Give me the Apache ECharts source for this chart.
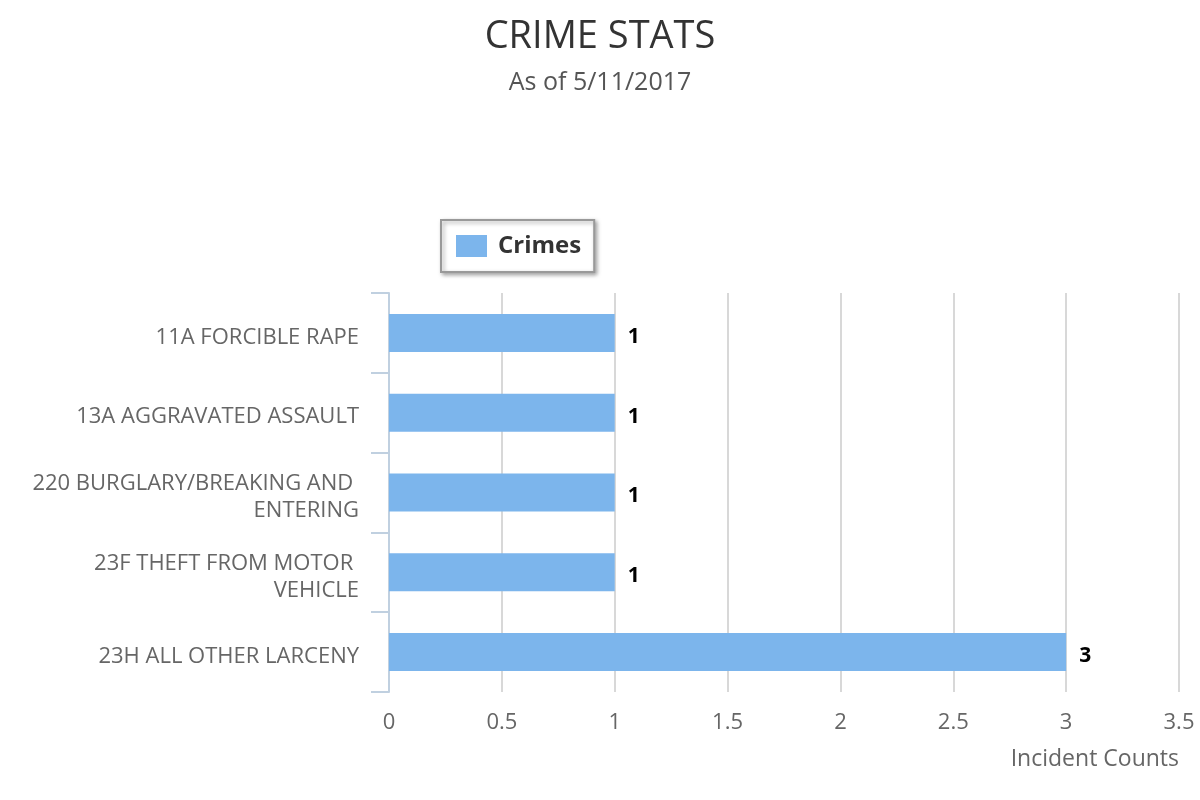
<!DOCTYPE html>
<html>
<head>
<meta charset="utf-8">
<script src="https://cdn.jsdelivr.net/npm/echarts@6/dist/echarts.min.js"></script>
<style>html,body{margin:0;padding:0;background:#fff}#c{width:1200px;height:800px}</style>
</head>
<body>
<div id="c"></div>
<script>
const categories = [
  '11A FORCIBLE RAPE',
  '13A AGGRAVATED ASSAULT',
  '220 BURGLARY/BREAKING AND ENTERING',
  '23F THEFT FROM MOTOR VEHICLE',
  '23H ALL OTHER LARCENY'
];
const crimes = [1, 1, 1, 1, 3];
const seriesName = 'Crimes';
const titleText = 'CRIME STATS';
const subtitleText = 'As of 5/11/2017';
const xAxisName = 'Incident Counts';

const FONT = "'Open Sans', sans-serif";
const chart = echarts.init(document.getElementById('c'), null, {renderer: 'canvas'});
chart.setOption({
  animation: false,
  title: {
    text: titleText,
    subtext: subtitleText,
    left: 'center',
    top: 13,
    itemGap: 14,
    textStyle: {fontFamily: FONT, fontSize: 38, fontWeight: 'normal', color: '#333'},
    subtextStyle: {fontFamily: FONT, fontSize: 25, color: '#555'}
  },
  legend: {
    data: [seriesName],
    left: 441,
    top: 220,
    icon: 'rect',
    itemWidth: 31,
    itemHeight: 22,
    padding: [14, 13, 14, 15],
    borderColor: '#999',
    borderWidth: 2,
    backgroundColor: '#fff',
    shadowColor: 'rgba(0,0,0,0.35)',
    shadowBlur: 4,
    shadowOffsetX: 2,
    shadowOffsetY: 2,
    textStyle: {fontFamily: FONT, fontSize: 24, fontWeight: 'bold', color: '#333', padding: [3, 2, 0, 6]}
  },
  grid: {left: 389, right: 21, top: 293, bottom: 108, containLabel: false},
  xAxis: {
    type: 'value',
    min: 0,
    max: 3.5,
    interval: 0.5,
    name: xAxisName,
    nameLocation: 'end',
    nameGap: 0,
    nameTextStyle: {fontFamily: FONT, fontSize: 23, color: '#666', align: 'right', verticalAlign: 'top', padding: [56, 0, 0, 0]},
    axisLine: {show: false},
    axisTick: {show: false},
    axisLabel: {fontFamily: FONT, fontSize: 22, color: '#666', margin: 20},
    splitLine: {show: true, lineStyle: {color: '#d8d8d8', width: 2}}
  },
  yAxis: {
    type: 'category',
    data: categories,
    inverse: true,
    axisLine: {show: true, lineStyle: {color: '#C0D0E0', width: 2}},
    axisTick: {show: true, length: 18, lineStyle: {color: '#C0D0E0', width: 2}},
    axisLabel: {
      fontFamily: FONT, fontSize: 22, color: '#666', margin: 30,
      width: 338, overflow: 'break', lineHeight: 27, align: 'right',
      verticalAlign: 'middle',
      formatter: function (v) { return '{a|' + v + '}'; },
      rich: {a: {fontFamily: FONT, fontSize: 22, color: '#666', lineHeight: 27, padding: [9, 0, 0, 0]}}
    }
  },
  series: [{
    name: seriesName,
    type: 'bar',
    data: crimes,
    barWidth: 38,
    itemStyle: {color: '#7CB5EC'},
    label: {show: true, position: 'right', distance: 13, offset: [0, 4], fontFamily: FONT, fontSize: 21, fontWeight: 'bold', color: '#000'}
  }]
});
</script>
</body>
</html>
